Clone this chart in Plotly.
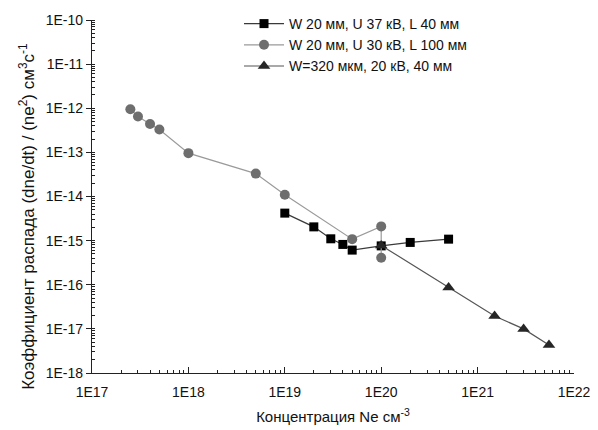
import plotly.graph_objects as go

# Series 1: W 20 мм, U 37 кВ, L 40 мм (squares)
sq_x = [1e19, 2e19, 3e19, 4e19, 5e19, 1e20, 2e20, 5e20]
sq_y = [4.2e-15, 2.05e-15, 1.1e-15, 8.2e-16, 6.1e-16, 7.6e-16, 9.1e-16, 1.08e-15]

# Series 2: W 20 мм, U 30 кВ, L 100 мм (circles)
ci_x = [2.5e17, 3e17, 4e17, 5e17, 1e18, 5e18, 1e19, 5e19, 1e20, 1e20]
ci_y = [9.5e-13, 6.5e-13, 4.4e-13, 3.3e-13, 9.6e-14, 3.3e-14, 1.1e-14, 1.08e-15, 2.1e-15, 4.1e-16]

# Series 3: W=320 мкм, 20 кВ, 40 мм (triangles)
tr_x = [1e20, 5e20, 1.5e21, 3e21, 5.5e21]
tr_y = [7.8e-16, 8.7e-17, 1.95e-17, 1.0e-17, 4.3e-18]

names = ["W 20 мм, U 37 кВ, L 40 мм", "W 20 мм, U 30 кВ, L 100 мм", "W=320 мкм, 20 кВ, 40 мм"]

x_tickvals = [1e17, 1e18, 1e19, 1e20, 1e21, 1e22]
x_ticktext = ["1E17", "1E18", "1E19", "1E20", "1E21", "1E22"]
y_tickvals = [1e-18, 1e-17, 1e-16, 1e-15, 1e-14, 1e-13, 1e-12, 1e-11, 1e-10]
y_ticktext = ["1E-18", "1E-17", "1E-16", "1E-15", "1E-14", "1E-13", "1E-12", "1E-11", "1E-10"]

x_title = "Концентрация Ne см<sup>-3</sup>"
y_title = "Коэффициент распада (dne/dt) / (ne<sup>2</sup>) см<sup>3</sup>с<sup>-1</sup>"

FONT = "Arial, Liberation Sans, sans-serif"

fig = go.Figure()
fig.add_trace(go.Scatter(x=sq_x, y=sq_y, name=names[0], mode="lines+markers",
                         line=dict(color="#3a3a3a", width=1.2),
                         marker=dict(symbol="square", size=9, color="#000000")))
fig.add_trace(go.Scatter(x=ci_x, y=ci_y, name=names[1], mode="lines+markers",
                         line=dict(color="#9a9a9a", width=1.2),
                         marker=dict(symbol="circle", size=10, color="#6e6e6e")))
fig.add_trace(go.Scatter(x=tr_x, y=tr_y, name=names[2], mode="lines+markers",
                         line=dict(color="#555555", width=1.2),
                         marker=dict(symbol="triangle-up", size=11, color="#262626")))

fig.add_annotation(text=y_title, xref="paper", yref="paper", x=-0.135, y=0.445,
                   xanchor="center", yanchor="middle", textangle=-90, showarrow=False,
                   font=dict(size=17, family=FONT, color="#111111"))

fig.update_layout(
    width=590, height=422,
    margin=dict(l=84, r=24, t=12, b=57, autoexpand=False),
    paper_bgcolor="white", plot_bgcolor="white",
    font=dict(family=FONT, size=14, color="#111111"),
    showlegend=True,
    legend=dict(x=0.305, y=1.0, xanchor="left", yanchor="top", yref="container",
                bgcolor="rgba(0,0,0,0)", font=dict(size=14, family=FONT),
                tracegroupgap=0, itemwidth=40),
    xaxis=dict(type="log", range=[17, 22], tickvals=x_tickvals, ticktext=x_ticktext,
               ticks="inside", ticklen=6, tickwidth=1, tickcolor="#222",
               showline=True, linecolor="#222", linewidth=1.2, mirror=False,
               showgrid=False, zeroline=False, ticklabelstandoff=6,
               minor=dict(ticks="inside", ticklen=3, tickcolor="#222", dtick="D1", showgrid=False),
               tickfont=dict(size=14, family=FONT),
               title=dict(text=x_title, font=dict(size=15, family=FONT), standoff=12)),
    yaxis=dict(type="log", range=[-18, -10], tickvals=y_tickvals, ticktext=y_ticktext,
               ticks="outside", ticklen=5, tickwidth=1, tickcolor="#222",
               showline=True, linecolor="#222", linewidth=1.2, mirror=False,
               showgrid=False, zeroline=False,
               minor=dict(ticks="inside", ticklen=3, tickcolor="#222", dtick="D1", showgrid=False),
               tickfont=dict(size=14, family=FONT)),
)

fig.write_html("out.html")
